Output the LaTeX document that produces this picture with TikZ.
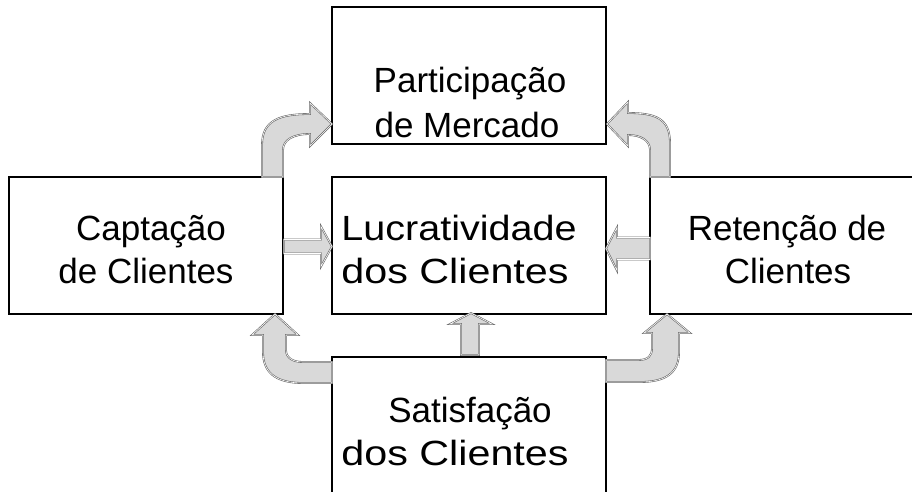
\documentclass[tikz,border=0pt]{standalone}
\usepackage{graphicx}
\usepackage{fontspec}
\setmainfont{Liberation Sans}
\begin{document}
\begin{tikzpicture}[x=1pt,y=-1pt,
  box/.style={draw=black, line width=2pt, minimum width=274pt, minimum height=137pt, inner sep=0pt, outer sep=0pt},
  lbl/.style={font=\fontsize{35}{42}\selectfont, inner sep=0pt, anchor=base},
  barrow/.style={fill=black!15, draw=black!60, double=white, double distance=0.6pt, line width=0.6pt, line join=miter}]
\useasboundingbox (0,0) rectangle (912,491);
\clip (0,0) rectangle (912,491);
% boxes
\node[box] (part) at (469,75.5) {};
\node[box] (capt) at (146,245.5) {};
\node[box] (lucr) at (469,245.5) {};
\node[box, minimum width=276pt] (ret) at (788,245.5) {};
\node[box] (sat) at (469,425.5) {};
% texts
\node[lbl] (partA) at (470,92) {Participação};
\node[lbl] (partB) at (467,137) {de Mercado};
\node[lbl] (captA) at (151,240) {Captação};
\node[lbl] (captB) at (146,283) {de Clientes};
\node[lbl] (lucrA) at (459,240) {\scalebox{1.13}[1]{Lucratividade}};
\node[lbl] (lucrB) at (455,283) {\scalebox{1.18}[1]{dos Clientes}};
\node[lbl] (retA) at (787,240) {Retenção de};
\node[lbl] (retB) at (788,283) {Clientes};
\node[lbl] (satA) at (470,422) {Satisfação};
\node[lbl] (satB) at (455,465) {\scalebox{1.18}[1]{dos Clientes}};
% straight block arrows
\begin{scope}[shift={(capt.east)}]
  \draw[barrow] (1,-6) -- (38,-6) -- (38,-19) -- (49,1) -- (38,21) -- (38,8) -- (1,8) -- cycle;
\end{scope}
\begin{scope}[shift={(ret.west)}]
  \draw[barrow] (0,-8) -- (-33,-8) -- (-33,-18) -- (-44,3) -- (-33,25) -- (-33,14) -- (0,14) -- cycle;
\end{scope}
\begin{scope}[shift={(sat.north)}]
  \draw[barrow] (-8,-2) -- (-8,-33) -- (-19,-33) -- (2,-44) -- (23,-33) -- (10,-33) -- (10,-2) -- cycle;
\end{scope}
% curved block arrows
\begin{scope}[shift={(capt.north east)}]
  \draw[barrow] (0,0) -- (0,-27) .. controls (0,-37) and (10,-43) .. (27,-43) -- (27,-31) -- (49,-53) -- (27,-74) -- (27,-63) .. controls (-3,-63) and (-21,-57) .. (-21,-32) -- (-21,0) -- cycle;
\end{scope}
\begin{scope}[shift={(ret.north west)}]
  \draw[barrow] (0,0) -- (0,-27) .. controls (0,-37) and (-10,-42) .. (-22,-42) -- (-22,-31) -- (-43,-53) -- (-22,-75) -- (-22,-64) .. controls (5,-64) and (20,-59) .. (20,-34) -- (20,0) -- cycle;
\end{scope}
\begin{scope}[shift={(capt.south east)}]
  \draw[barrow] (-8,0) -- (15,21) -- (3,21) -- (3,36) .. controls (3,44) and (10,48) .. (20,48) -- (49,48) -- (49,69) -- (20,69) .. controls (-8,69) and (-20,58) .. (-20,38) -- (-20,21) -- (-31,21) -- cycle;
\end{scope}
\begin{scope}[shift={(ret.south west)}]
  \draw[barrow] (17,0) -- (40,19) -- (29,19) -- (29,38) .. controls (29,58) and (17,68) .. (-10,68) -- (-44,68) -- (-44,46) -- (-12,46) .. controls (-2,46) and (2,42) .. (2,34) -- (2,19) -- (-6,19) -- cycle;
\end{scope}
\end{tikzpicture}
\end{document}
